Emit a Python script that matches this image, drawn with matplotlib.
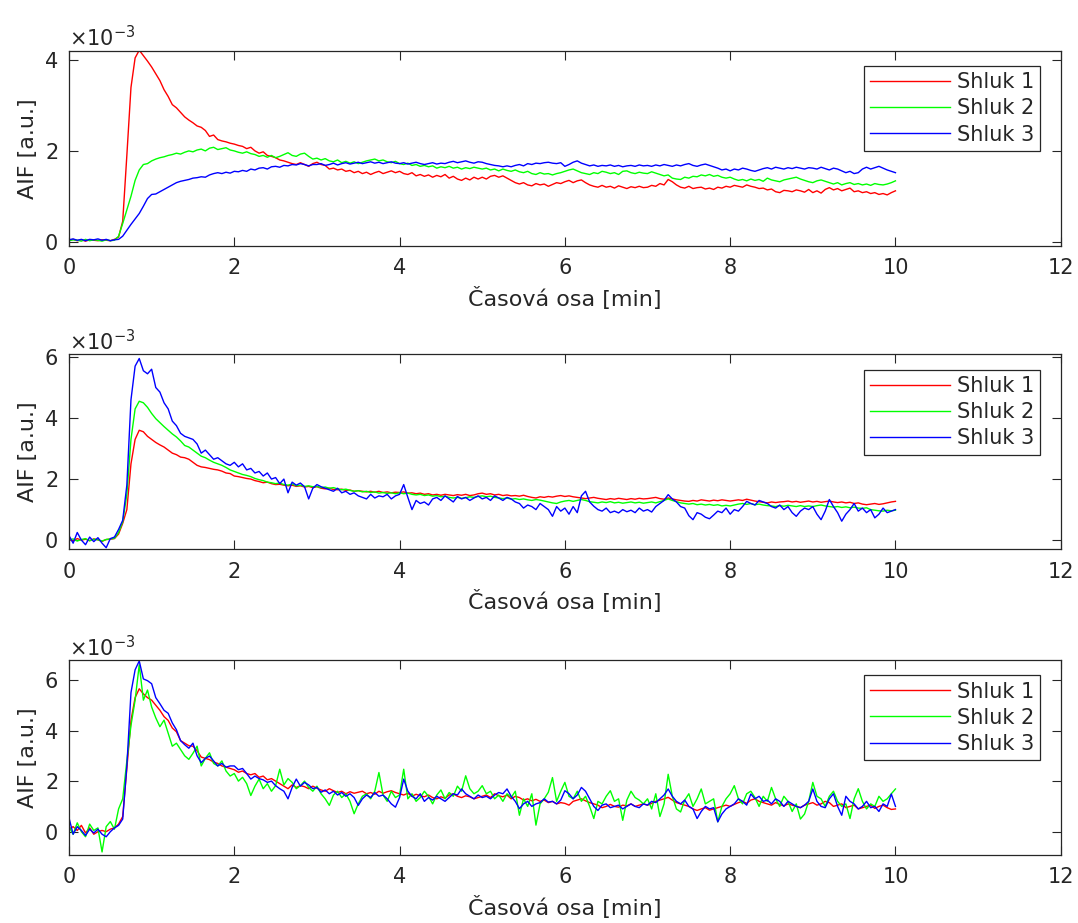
import numpy as np
import matplotlib
matplotlib.use('Agg')
import matplotlib.pyplot as plt
from matplotlib.ticker import ScalarFormatter

# casova osa: vzorky po 0.05 min, 0 .. 10 min
time_min = np.linspace(0, 10, 201)

labels = ['Shluk 1', 'Shluk 2', 'Shluk 3']
colors = ['#ff0000', '#00ff00', '#0000ff']

# hodnoty AIF v jednotkach 1e-3, odectene z grafu
# --- graf 1 ---
p1_shluk1 = [
    0.03, 0.05, 0.02, 0.04, 0.01, 0.04, 0.03, 0.02, 0.04, 0.03, 0.02, 0.05, 0.10, 0.45, 1.90, 3.40, 4.05, 4.22, 4.10, 3.98,
    3.85, 3.70, 3.55, 3.35, 3.20, 3.02, 2.95, 2.85, 2.75, 2.68, 2.62, 2.55, 2.52, 2.45, 2.32, 2.35, 2.25, 2.22, 2.20, 2.17,
    2.15, 2.12, 2.10, 2.05, 2.08, 2.00, 1.95, 1.98, 1.90, 1.88, 1.85, 1.80, 1.78, 1.75, 1.72, 1.70, 1.74, 1.70, 1.66, 1.72,
    1.75, 1.70, 1.68, 1.60, 1.62, 1.58, 1.60, 1.55, 1.57, 1.52, 1.55, 1.50, 1.53, 1.48, 1.52, 1.55, 1.50, 1.53, 1.56, 1.52,
    1.55, 1.50, 1.48, 1.52, 1.45, 1.48, 1.44, 1.47, 1.42, 1.46, 1.43, 1.48, 1.40, 1.44, 1.38, 1.35, 1.40, 1.36, 1.42, 1.38,
    1.42, 1.38, 1.44, 1.46, 1.42, 1.45, 1.40, 1.35, 1.30, 1.27, 1.30, 1.25, 1.23, 1.28, 1.25, 1.27, 1.22, 1.26, 1.30, 1.28,
    1.32, 1.35, 1.30, 1.34, 1.36, 1.30, 1.25, 1.22, 1.20, 1.24, 1.20, 1.22, 1.18, 1.23, 1.20, 1.17, 1.21, 1.19, 1.22, 1.19,
    1.20, 1.24, 1.22, 1.28, 1.25, 1.37, 1.32, 1.25, 1.20, 1.18, 1.22, 1.17, 1.19, 1.20, 1.16, 1.18, 1.15, 1.20, 1.18, 1.22,
    1.20, 1.24, 1.22, 1.20, 1.25, 1.22, 1.20, 1.17, 1.18, 1.14, 1.16, 1.10, 1.08, 1.13, 1.12, 1.10, 1.14, 1.12, 1.09, 1.15,
    1.08, 1.12, 1.07, 1.15, 1.19, 1.14, 1.17, 1.12, 1.15, 1.18, 1.10, 1.12, 1.08, 1.10, 1.06, 1.08, 1.04, 1.06, 1.03, 1.08,
    1.12]
p1_shluk2 = [
    0.02, 0.04, 0.03, 0.01, 0.05, 0.02, 0.04, 0.03, 0.01, 0.04, 0.02, 0.03, 0.12, 0.40, 0.70, 1.00, 1.35, 1.58, 1.70, 1.72,
    1.78, 1.82, 1.85, 1.87, 1.90, 1.92, 1.95, 1.93, 1.97, 2.00, 1.98, 2.02, 2.04, 2.00, 2.06, 2.08, 2.03, 2.05, 2.07, 2.02,
    2.00, 1.97, 1.95, 1.98, 1.94, 1.92, 1.88, 1.90, 1.86, 1.90, 1.85, 1.88, 1.92, 1.96, 1.90, 1.88, 1.93, 1.95, 1.88, 1.82,
    1.84, 1.80, 1.83, 1.78, 1.76, 1.80, 1.74, 1.77, 1.73, 1.76, 1.72, 1.75, 1.78, 1.80, 1.82, 1.78, 1.80, 1.76, 1.74, 1.77,
    1.72, 1.70, 1.73, 1.68, 1.70, 1.66, 1.68, 1.65, 1.67, 1.62, 1.65, 1.63, 1.66, 1.62, 1.64, 1.60, 1.63, 1.61, 1.64, 1.62,
    1.60, 1.62, 1.58, 1.60, 1.56, 1.60, 1.57, 1.55, 1.58, 1.54, 1.52, 1.55, 1.50, 1.48, 1.52, 1.49, 1.50, 1.47, 1.50, 1.52,
    1.55, 1.58, 1.60, 1.56, 1.52, 1.50, 1.48, 1.52, 1.50, 1.55, 1.53, 1.50, 1.52, 1.48, 1.55, 1.56, 1.52, 1.50, 1.53, 1.51,
    1.50, 1.54, 1.51, 1.48, 1.45, 1.47, 1.40, 1.38, 1.37, 1.42, 1.40, 1.44, 1.43, 1.47, 1.45, 1.48, 1.44, 1.46, 1.42, 1.40,
    1.42, 1.38, 1.35, 1.37, 1.34, 1.38, 1.35, 1.37, 1.33, 1.40, 1.36, 1.34, 1.32, 1.36, 1.38, 1.40, 1.42, 1.38, 1.35, 1.32,
    1.30, 1.34, 1.36, 1.33, 1.30, 1.27, 1.30, 1.25, 1.28, 1.30, 1.26, 1.28, 1.25, 1.27, 1.24, 1.28, 1.26, 1.25, 1.27, 1.30,
    1.34]
p1_shluk3 = [
    0.04, 0.06, 0.03, 0.05, 0.02, 0.05, 0.04, 0.06, 0.03, 0.05, 0.02, 0.04, 0.05, 0.12, 0.25, 0.38, 0.50, 0.62, 0.78, 0.95,
    1.04, 1.05, 1.10, 1.15, 1.20, 1.25, 1.30, 1.33, 1.35, 1.37, 1.40, 1.41, 1.43, 1.42, 1.47, 1.50, 1.52, 1.50, 1.53, 1.51,
    1.55, 1.54, 1.57, 1.55, 1.60, 1.58, 1.62, 1.63, 1.60, 1.65, 1.66, 1.64, 1.68, 1.67, 1.70, 1.69, 1.72, 1.70, 1.67, 1.70,
    1.70, 1.72, 1.68, 1.70, 1.73, 1.69, 1.72, 1.74, 1.71, 1.73, 1.75, 1.72, 1.74, 1.76, 1.73, 1.75, 1.72, 1.74, 1.76, 1.73,
    1.72, 1.74, 1.71, 1.73, 1.75, 1.72, 1.70, 1.72, 1.74, 1.71, 1.73, 1.72, 1.75, 1.77, 1.74, 1.76, 1.78, 1.75, 1.73, 1.76,
    1.75, 1.72, 1.70, 1.68, 1.67, 1.65, 1.67, 1.65, 1.68, 1.70, 1.67, 1.72, 1.70, 1.73, 1.72, 1.74, 1.75, 1.73, 1.72, 1.74,
    1.66, 1.70, 1.75, 1.78, 1.73, 1.70, 1.67, 1.69, 1.66, 1.68, 1.67, 1.69, 1.66, 1.68, 1.65, 1.67, 1.68, 1.66, 1.69, 1.67,
    1.68, 1.66, 1.69, 1.67, 1.70, 1.68, 1.66, 1.69, 1.67, 1.70, 1.72, 1.68, 1.66, 1.69, 1.71, 1.68, 1.65, 1.62, 1.58, 1.60,
    1.56, 1.60, 1.58, 1.62, 1.60, 1.57, 1.55, 1.58, 1.61, 1.63, 1.60, 1.64, 1.62, 1.60, 1.63, 1.61, 1.64, 1.62, 1.60, 1.63,
    1.62, 1.60, 1.64, 1.61, 1.58, 1.62, 1.60, 1.56, 1.52, 1.55, 1.50, 1.52, 1.60, 1.64, 1.60, 1.63, 1.66, 1.62, 1.58, 1.55,
    1.52]

# --- graf 2 ---
p2_shluk1 = [
    0.02, -0.03, 0.05, 0.00, 0.03, -0.02, 0.04, 0.01, -0.04, 0.02, 0.03, 0.05, 0.20, 0.55, 1.00, 2.50, 3.30, 3.60, 3.55, 3.40,
    3.30, 3.20, 3.12, 3.05, 2.95, 2.85, 2.80, 2.72, 2.70, 2.65, 2.55, 2.45, 2.40, 2.38, 2.35, 2.32, 2.30, 2.26, 2.20, 2.18,
    2.10, 2.08, 2.05, 2.02, 2.00, 1.95, 1.92, 1.88, 1.90, 1.85, 1.82, 1.83, 1.80, 1.78, 1.80, 1.76, 1.78, 1.74, 1.76, 1.72,
    1.75, 1.70, 1.68, 1.70, 1.66, 1.65, 1.67, 1.63, 1.64, 1.60, 1.62, 1.60, 1.58, 1.60, 1.57, 1.60, 1.56, 1.58, 1.55, 1.57,
    1.56, 1.58, 1.54, 1.55, 1.52, 1.54, 1.50, 1.52, 1.48, 1.50, 1.47, 1.50, 1.48, 1.46, 1.49, 1.47, 1.50, 1.46, 1.48, 1.52,
    1.54, 1.50, 1.52, 1.48, 1.50, 1.46, 1.48, 1.45, 1.46, 1.44, 1.47, 1.43, 1.40, 1.38, 1.42, 1.40, 1.43, 1.41, 1.44, 1.46,
    1.43, 1.45, 1.42, 1.40, 1.38, 1.36, 1.38, 1.40, 1.37, 1.35, 1.33, 1.36, 1.34, 1.37, 1.35, 1.33, 1.36, 1.34, 1.37, 1.35,
    1.36, 1.38, 1.40, 1.36, 1.34, 1.38, 1.35, 1.32, 1.30, 1.28, 1.27, 1.30, 1.28, 1.32, 1.30, 1.28, 1.31, 1.29, 1.32, 1.30,
    1.28, 1.30, 1.32, 1.30, 1.34, 1.31, 1.28, 1.26, 1.24, 1.22, 1.25, 1.23, 1.25, 1.26, 1.28, 1.25, 1.27, 1.24, 1.26, 1.28,
    1.25, 1.27, 1.24, 1.26, 1.28, 1.25, 1.23, 1.25, 1.22, 1.24, 1.20, 1.22, 1.18, 1.16, 1.18, 1.20, 1.17, 1.19, 1.22, 1.25,
    1.27]
p2_shluk2 = [
    0.00, 0.04, -0.03, 0.02, 0.05, -0.02, 0.03, 0.01, -0.03, 0.02, 0.04, 0.06, 0.25, 0.60, 1.50, 3.30, 4.30, 4.55, 4.50, 4.35,
    4.15, 3.98, 3.85, 3.72, 3.60, 3.48, 3.38, 3.25, 3.10, 3.05, 2.95, 2.85, 2.75, 2.70, 2.62, 2.55, 2.50, 2.45, 2.38, 2.30,
    2.25, 2.20, 2.15, 2.12, 2.08, 2.02, 1.98, 1.95, 1.90, 1.88, 1.85, 1.87, 1.82, 1.80, 1.84, 1.78, 1.80, 1.76, 1.78, 1.75,
    1.76, 1.72, 1.74, 1.70, 1.72, 1.68, 1.65, 1.67, 1.63, 1.60, 1.62, 1.58, 1.60, 1.56, 1.58, 1.54, 1.56, 1.53, 1.55, 1.52,
    1.55, 1.52, 1.54, 1.50, 1.48, 1.50, 1.46, 1.48, 1.44, 1.46, 1.42, 1.44, 1.40, 1.38, 1.40, 1.37, 1.39, 1.42, 1.40, 1.43,
    1.45, 1.42, 1.44, 1.40, 1.38, 1.36, 1.38, 1.34, 1.36, 1.33, 1.35, 1.32, 1.30, 1.33, 1.31, 1.28, 1.25, 1.22, 1.20, 1.25,
    1.28, 1.30, 1.27, 1.30, 1.33, 1.30, 1.26, 1.24, 1.22, 1.25, 1.23, 1.26, 1.22, 1.24, 1.21, 1.23, 1.25, 1.22, 1.24, 1.21,
    1.23, 1.25, 1.22, 1.26, 1.30, 1.35, 1.30, 1.26, 1.22, 1.20, 1.18, 1.20, 1.16, 1.18, 1.15, 1.17, 1.14, 1.16, 1.12, 1.14,
    1.12, 1.15, 1.18, 1.20, 1.17, 1.20, 1.16, 1.18, 1.15, 1.13, 1.12, 1.10, 1.13, 1.11, 1.14, 1.12, 1.10, 1.13, 1.10, 1.12,
    1.10, 1.13, 1.15, 1.12, 1.10, 1.08, 1.10, 1.07, 1.09, 1.06, 1.08, 1.05, 1.04, 1.06, 1.00, 0.98, 0.96, 0.95, 0.98, 0.96,
    0.98]
p2_shluk3 = [
    0.15, -0.10, 0.25, 0.00, -0.15, 0.10, -0.05, 0.08, -0.10, -0.25, 0.05, 0.10, 0.35, 0.65, 1.80, 4.60, 5.70, 5.95, 5.55, 5.45,
    5.60, 5.00, 4.85, 4.50, 4.30, 3.90, 3.75, 3.50, 3.40, 3.35, 3.30, 3.15, 2.85, 2.95, 2.80, 2.65, 2.70, 2.60, 2.50, 2.45,
    2.55, 2.40, 2.50, 2.30, 2.35, 2.20, 2.25, 2.10, 2.20, 2.00, 2.05, 1.85, 2.00, 1.55, 1.90, 1.80, 1.87, 1.75, 1.35, 1.70,
    1.82, 1.75, 1.70, 1.65, 1.60, 1.70, 1.55, 1.60, 1.50, 1.55, 1.45, 1.40, 1.35, 1.50, 1.38, 1.45, 1.42, 1.50, 1.35, 1.45,
    1.50, 1.82, 1.40, 1.00, 1.30, 1.20, 1.25, 1.15, 1.35, 1.40, 1.30, 1.45, 1.35, 1.25, 1.43, 1.35, 1.40, 1.30, 1.38, 1.45,
    1.35, 1.40, 1.30, 1.45, 1.38, 1.30, 1.40, 1.35, 1.25, 1.20, 1.05, 1.15, 1.10, 1.00, 1.20, 1.10, 1.00, 0.78, 1.10, 0.95,
    1.05, 0.85, 1.10, 0.90, 1.45, 1.60, 1.25, 1.11, 1.00, 0.95, 1.05, 0.90, 0.95, 0.89, 1.00, 0.93, 0.98, 0.90, 1.05, 0.95,
    1.00, 0.92, 1.10, 1.20, 1.30, 1.49, 1.35, 1.25, 1.10, 1.05, 0.80, 0.67, 0.90, 0.85, 0.75, 0.70, 0.82, 0.95, 0.90, 1.05,
    0.85, 1.00, 0.95, 1.10, 1.27, 1.20, 1.15, 1.30, 1.25, 1.20, 1.10, 1.05, 1.15, 1.00, 1.10, 0.90, 0.78, 0.95, 1.05, 1.00,
    1.10, 0.85, 0.67, 0.95, 1.33, 1.10, 0.90, 0.62, 0.85, 1.00, 1.20, 0.95, 1.05, 0.90, 1.00, 0.73, 0.85, 1.05, 0.90, 0.95,
    1.00]

# --- graf 3 ---
p3_shluk1 = [
    0.10, 0.20, 0.05, 0.25, -0.05, 0.15, -0.10, 0.00, 0.05, 0.00, 0.10, 0.15, 0.30, 0.60, 2.50, 4.40, 5.30, 5.65, 5.45, 5.30,
    5.20, 5.00, 4.80, 4.55, 4.40, 4.10, 3.95, 3.60, 3.50, 3.40, 3.38, 3.20, 2.95, 2.90, 2.85, 2.75, 2.70, 2.60, 2.55, 2.50,
    2.45, 2.35, 2.40, 2.30, 2.25, 2.30, 2.15, 2.20, 2.05, 2.10, 2.00, 1.90, 1.80, 1.70, 1.85, 1.75, 1.82, 1.78, 1.70, 1.80,
    1.72, 1.65, 1.60, 1.70, 1.62, 1.55, 1.60, 1.50, 1.58, 1.52, 1.56, 1.60, 1.50, 1.55, 1.48, 1.60, 1.52, 1.58, 1.62, 1.55,
    1.50, 1.45, 1.52, 1.40, 1.48, 1.42, 1.38, 1.45, 1.35, 1.30, 1.38, 1.32, 1.45, 1.50, 1.40, 1.35, 1.42, 1.38, 1.30, 1.35,
    1.40, 1.45, 1.35, 1.50, 1.42, 1.38, 1.45, 1.30, 1.40, 1.35, 1.25, 1.30, 1.22, 1.28, 1.20, 1.25, 1.15, 1.20, 1.10, 1.15,
    1.12, 1.05, 1.20, 1.25, 1.30, 1.22, 1.15, 1.10, 1.05, 0.95, 1.00, 1.08, 1.00, 0.97, 1.05, 1.02, 1.10, 1.00, 1.05, 1.10,
    1.05, 1.12, 1.20, 1.25, 1.30, 1.36, 1.25, 1.15, 1.10, 1.05, 1.00, 0.90, 0.84, 0.90, 0.95, 0.85, 0.90, 0.95, 1.00, 1.05,
    1.00, 1.08, 1.15, 1.20, 1.12, 1.25, 1.30, 1.20, 1.15, 1.10, 1.05, 1.15, 1.08, 1.02, 1.10, 1.05, 1.00, 0.95, 1.05, 1.10,
    1.15, 1.05, 1.10, 1.20, 1.15, 1.00, 1.05, 1.10, 0.95, 1.00, 1.05, 0.90, 0.95, 1.00, 1.05, 0.92, 1.00, 1.05, 0.95, 0.88,
    0.90]
p3_shluk2 = [
    0.20, -0.10, 0.35, 0.00, -0.20, 0.30, 0.05, 0.15, -0.80, 0.20, 0.40, 0.10, 0.90, 1.30, 2.80, 4.20, 5.20, 6.60, 5.20, 5.60,
    4.93, 4.50, 4.15, 4.41, 3.90, 3.38, 3.50, 3.25, 3.00, 2.86, 3.10, 3.38, 2.60, 2.90, 3.12, 2.70, 2.60, 2.80, 2.40, 2.20,
    2.30, 2.00, 2.15, 1.90, 1.43, 1.80, 2.08, 1.70, 1.90, 1.60, 1.82, 2.47, 1.85, 2.10, 1.95, 1.70, 1.82, 2.00, 1.75, 1.60,
    1.80, 1.50, 1.30, 1.04, 1.45, 1.60, 1.35, 1.50, 1.20, 0.71, 1.10, 1.40, 1.50, 1.30, 1.60, 2.34, 1.45, 1.20, 1.60, 1.35,
    1.45, 2.47, 1.30, 1.50, 1.20, 1.35, 1.60, 1.40, 1.10, 1.45, 1.65, 1.30, 1.55, 1.40, 1.80, 1.60, 2.21, 1.70, 1.50, 1.60,
    1.82, 1.50, 1.60, 1.30, 1.45, 1.20, 1.50, 1.35, 1.60, 0.65, 1.30, 1.00, 1.50, 0.26, 1.10, 1.30, 1.56, 2.14, 1.20, 1.60,
    1.95, 1.40, 1.30, 1.60, 1.20, 1.40, 1.00, 0.52, 1.20, 1.10, 1.40, 1.62, 1.20, 1.30, 0.45, 1.25, 1.60, 1.35, 1.25, 1.10,
    1.30, 0.90, 1.50, 0.60, 1.10, 2.27, 1.40, 0.90, 0.78, 1.25, 1.50, 1.00, 1.30, 1.69, 1.10, 1.20, 1.30, 0.39, 1.00, 1.30,
    1.50, 1.82, 1.30, 1.10, 1.50, 1.60, 1.35, 1.00, 1.40, 1.20, 1.75, 1.30, 1.00, 1.40, 1.20, 0.80, 1.10, 0.50, 0.70, 1.20,
    1.95, 1.40, 1.30, 1.00, 1.40, 1.60, 1.20, 1.00, 1.10, 0.52, 1.30, 1.70, 1.20, 0.90, 1.10, 1.00, 1.40, 1.20, 1.30, 1.50,
    1.69]
p3_shluk3 = [
    0.55, -0.10, 0.20, 0.05, -0.15, 0.10, -0.05, 0.10, -0.10, -0.20, 0.00, 0.15, 0.25, 0.50, 2.60, 5.50, 6.40, 6.75, 6.04, 5.97,
    5.85, 5.30, 5.06, 4.80, 4.68, 4.30, 4.03, 3.60, 3.44, 3.30, 3.50, 3.00, 2.73, 2.90, 2.99, 2.80, 2.60, 2.70, 2.55, 2.60,
    2.60, 2.45, 2.50, 2.30, 2.08, 2.20, 2.10, 2.05, 1.95, 2.00, 1.82, 1.70, 1.60, 1.30, 1.75, 2.08, 1.80, 1.95, 1.85, 1.70,
    1.75, 1.56, 1.65, 1.50, 1.60, 1.45, 1.55, 1.40, 1.50, 1.35, 1.04, 1.30, 1.45, 1.35, 1.55, 1.40, 1.45, 1.30, 1.10, 0.97,
    1.35, 2.08, 1.60, 1.40, 1.30, 1.50, 1.20, 1.35, 1.25, 1.40, 1.30, 1.20, 1.35, 1.50, 1.45, 1.69, 1.50, 1.40, 1.30, 1.45,
    1.35, 1.40, 1.30, 1.45, 1.55, 1.50, 1.69, 1.40, 1.20, 0.91, 1.10, 1.20, 1.00, 1.10, 1.15, 1.30, 1.17, 1.20, 1.10, 1.25,
    1.62, 1.50, 1.30, 1.45, 1.75, 1.60, 1.30, 1.00, 0.84, 1.05, 1.10, 0.95, 1.00, 1.05, 0.90, 1.00, 1.10, 1.00, 0.95, 1.10,
    1.05, 1.20, 1.15, 1.30, 1.45, 1.69, 1.40, 1.20, 1.10, 1.25, 1.00, 0.90, 0.52, 0.80, 1.00, 0.90, 0.95, 0.39, 0.70, 0.90,
    1.00, 1.10, 1.30, 1.20, 1.05, 1.49, 1.30, 1.40, 1.20, 1.25, 1.10, 1.30, 1.20, 1.00, 1.20, 1.10, 1.00, 0.95, 1.05, 1.20,
    1.69, 1.20, 1.00, 0.95, 1.30, 1.50, 1.00, 0.65, 1.40, 1.20, 1.10, 0.90, 1.00, 1.20, 0.95, 1.00, 0.80, 1.10, 1.00, 1.49,
    1.00]

panels = [
    ([p1_shluk1, p1_shluk2, p1_shluk3], (-0.09e-3, 4.21e-3), [0, 2e-3, 4e-3]),
    ([p2_shluk1, p2_shluk2, p2_shluk3], (-0.30e-3, 6.09e-3), [0, 2e-3, 4e-3, 6e-3]),
    ([p3_shluk1, p3_shluk2, p3_shluk3], (-0.92e-3, 6.79e-3), [0, 2e-3, 4e-3, 6e-3]),
]

GRAY = '#262626'
plt.rcParams['font.family'] = ['DejaVu Sans']
plt.rcParams['text.color'] = GRAY
plt.rcParams['axes.labelcolor'] = GRAY

fig = plt.figure(figsize=(10.78, 9.23), dpi=100)
bottoms = [0.7338, 0.4049, 0.0737]

for (series, ylim, yticks), bottom in zip(panels, bottoms):
    ax = fig.add_axes([0.064, bottom, 0.920, 0.2113])
    for vals, lab, col in zip(series, labels, colors):
        ax.plot(time_min, np.array(vals) * 1e-3, color=col, lw=1.0, label=lab)

    ax.set_xlim(0, 12)
    ax.set_ylim(*ylim)
    ax.set_xticks(range(0, 13, 2))
    ax.set_yticks(yticks)

    fmt = ScalarFormatter(useMathText=True)
    fmt.set_powerlimits((-3, -3))
    ax.yaxis.set_major_formatter(fmt)
    ax.yaxis.get_offset_text().set_fontsize(15)
    ax.yaxis.get_offset_text().set_color(GRAY)

    ax.tick_params(direction='in', top=True, right=True, length=6.5, width=0.8,
                   labelsize=15, colors=GRAY)
    ax.tick_params(axis='x', pad=9)
    ax.tick_params(axis='y', pad=8)
    for sp in ax.spines.values():
        sp.set_color(GRAY)
        sp.set_linewidth(0.9)

    ax.set_xlabel('Časová osa [min]', fontsize=16, labelpad=6)
    ax.set_ylabel('AIF [a.u.]', fontsize=16, labelpad=4)

    leg = ax.legend(loc='upper right', bbox_to_anchor=(0.9795, 0.9215), borderaxespad=0,
                    fontsize=15, fancybox=False, framealpha=1, handlelength=3.8,
                    handletextpad=0.35, borderpad=0.3, labelspacing=0.3)
    leg.get_frame().set_edgecolor(GRAY)
    leg.get_frame().set_linewidth(0.9)

fig.savefig('out.png', dpi=100)
